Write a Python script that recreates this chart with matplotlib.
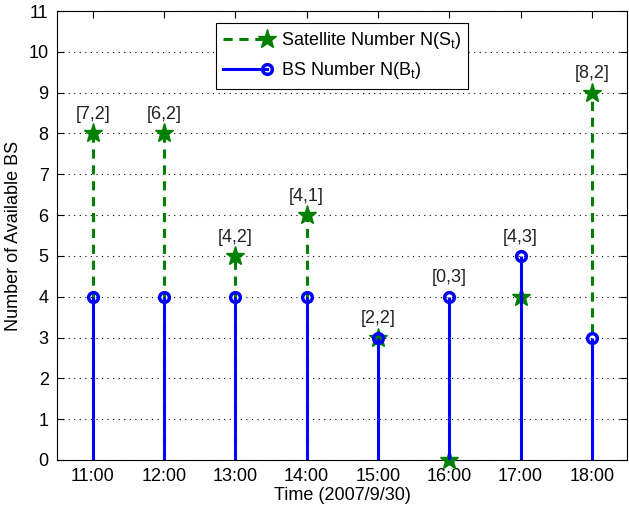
import matplotlib.pyplot as plt
import numpy as np
from matplotlib.legend_handler import HandlerLine2D

plt.rcParams['font.family'] = ['Liberation Sans', 'DejaVu Sans']
plt.rcParams['mathtext.fontset'] = 'custom'
plt.rcParams['mathtext.rm'] = 'Liberation Sans'

times = ["11:00", "12:00", "13:00", "14:00", "15:00", "16:00", "17:00", "18:00"]
sat_num = [8, 8, 5, 6, 3, 0, 4, 9]
bs_num = [4, 4, 4, 4, 3, 4, 5, 3]
pair_labels = ["[7,2]", "[6,2]", "[4,2]", "[4,1]", "[2,2]", "[0,3]", "[4,3]", "[8,2]"]

green = "#008000"
blue = "#0000ff"
dash = (0, (3, 2.2))


class EndMarker(HandlerLine2D):
    # put the legend marker at the right end of the sample line
    def create_artists(self, *args, **kwargs):
        arts = super().create_artists(*args, **kwargs)
        arts[0].set_markevery([-1])
        return arts


x = np.arange(1, len(times) + 1)

fig = plt.figure(figsize=(6.29, 5.09), dpi=100)
ax = fig.add_axes([0.0906, 0.0963, 0.907, 0.882])

# satellite stems first, base station stems over them
ax.vlines(x, 0, sat_num, colors=green, linestyles=dash, linewidth=2.2, zorder=2)
ax.plot(x, sat_num, linestyle="none", marker="*", color=green, markersize=14,
        zorder=3, clip_on=False)
ax.vlines(x, 0, bs_num, colors=blue, linewidth=2.2, zorder=4)
ax.plot(x, bs_num, linestyle="none", marker="o", color=blue, markerfacecolor="none",
        markersize=7, markeredgewidth=2.5, zorder=5)

for xi, s, b, lab in zip(x, sat_num, bs_num, pair_labels):
    ax.text(xi, max(s, b) + 0.46, lab, ha="center", va="center", fontsize=13, color="#222222")

# legend handles
h_sat, = ax.plot([], [], linestyle=dash, linewidth=2.2, color=green,
                 marker="*", markersize=14)
h_bs, = ax.plot([], [], linestyle="-", linewidth=2.2, color=blue, marker="o",
                markerfacecolor="none", markersize=7, markeredgewidth=2.5)
leg = ax.legend([h_sat, h_bs],
                [r"Satellite Number N(S$_\mathrm{t}$)", r"BS Number N(B$_\mathrm{t}$)"],
                loc="upper center", bbox_to_anchor=(0.5, 0.993), fontsize=13,
                fancybox=False, edgecolor="black", framealpha=1, handlelength=2.4,
                borderpad=0.4, labelspacing=0.5, handletextpad=0.8,
                handler_map={h_sat: EndMarker(), h_bs: EndMarker()})
leg.get_frame().set_linewidth(0.8)

ax.set_xlim(0.5, 8.5)
ax.set_ylim(0, 11)
ax.set_xticks(x)
ax.set_xticklabels(times)
ax.set_yticks(range(0, 12))
ax.tick_params(direction="in", top=True, right=True, labelsize=13, length=5, pad=6)
ax.yaxis.grid(True, linestyle=(0, (1, 4)), color="black", linewidth=0.8)
ax.set_axisbelow(True)
for sp in ax.spines.values():
    sp.set_linewidth(0.8)

ax.set_xlabel("Time (2007/9/30)", fontsize=13, labelpad=1)
ax.set_ylabel("Number of Available BS", fontsize=13)
ax.yaxis.set_label_coords(-0.061, 0.5)

fig.savefig("out.png", dpi=100)
